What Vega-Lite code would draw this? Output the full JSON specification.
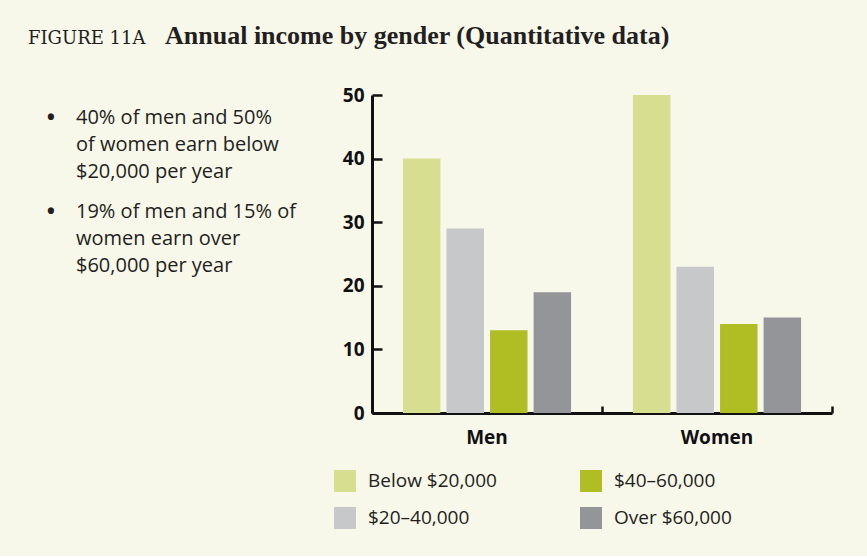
{
  "$schema": "https://vega.github.io/schema/vega-lite/v6.json",
  "background": "#f7f7ea",
  "padding": {"left": 0, "top": 23, "right": 34, "bottom": 27},
  "config": {"view": {"stroke": null}, "concat": {"spacing": 0}},
  "bounds": "flush",
  "hconcat": [
    {
      "width": 372,
      "height": 318,
      "title": {"text": "FIGURE 11A", "anchor": "start", "frame": "group", "dx": 28, "font": "DejaVu Serif", "fontSize": 18, "fontWeight": "normal", "baseline": "alphabetic", "offset": 33, "color": "#231f20"},
      "data": {"values": [
        {"bullet": "a", "lines": ["40% of men and 50%", "of women earn below", "$20,000 per year"]},
        {"bullet": "b", "lines": ["19% of men and 15% of", "women earn over", "$60,000 per year"]}
      ]},
      "layer": [
        {
          "mark": {"type": "text", "align": "left", "baseline": "top", "font": "Open Sans", "fontSize": 20, "lineHeight": 27, "color": "#231f20"},
          "encoding": {
            "x": {"value": 76},
            "y": {"field": "bullet", "type": "nominal", "scale": {"type": "point", "range": [13, 107], "padding": 0}, "axis": null},
            "text": {"field": "lines", "type": "nominal"}
          }
        },
        {
          "mark": {"type": "text", "align": "center", "baseline": "top", "font": "Open Sans", "fontSize": 22, "fontWeight": "bold", "color": "#231f20"},
          "encoding": {
            "x": {"value": 51},
            "y": {"field": "bullet", "type": "nominal", "scale": {"type": "point", "range": [13, 107], "padding": 0}, "axis": null},
            "text": {"value": "•"}
          }
        }
      ]
    },
    {
      "width": 460,
      "height": 318,
      "title": {"text": "Annual income by gender (Quantitative data)", "anchor": "start", "frame": "group", "dx": -207, "font": "Liberation Serif", "fontSize": 26, "fontWeight": "bold", "baseline": "alphabetic", "offset": 16, "color": "#231f20"},
      "data": {"values": [
        {"gender": "Men", "bracket": "Below $20,000", "pct": 40},
        {"gender": "Men", "bracket": "$20–40,000", "pct": 29},
        {"gender": "Men", "bracket": "$40–60,000", "pct": 13},
        {"gender": "Men", "bracket": "Over $60,000", "pct": 19},
        {"gender": "Women", "bracket": "Below $20,000", "pct": 50},
        {"gender": "Women", "bracket": "$20–40,000", "pct": 23},
        {"gender": "Women", "bracket": "$40–60,000", "pct": 14},
        {"gender": "Women", "bracket": "Over $60,000", "pct": 15}
      ]},
      "mark": {"type": "bar"},
      "encoding": {
        "x": {
          "field": "gender", "type": "nominal", "sort": ["Men", "Women"],
          "scale": {"paddingInner": 0, "paddingOuter": 0},
          "axis": {"title": null, "labelAngle": 0, "bandPosition": 1, "tickExtra": true, "tickSize": -7, "tickWidth": 2.5, "tickColor": "#111111", "domainColor": "#111111", "domainWidth": 3, "labelFont": "Open Sans", "labelFontWeight": "bold", "labelFontSize": 19, "labelColor": "#111111", "labelPadding": 22, "labelBaseline": "top"}
        },
        "xOffset": {
          "field": "bracket", "type": "nominal", "sort": ["Below $20,000", "$20–40,000", "$40–60,000", "Over $60,000"],
          "scale": {"paddingInner": 0.14, "paddingOuter": 0.71}
        },
        "y": {
          "field": "pct", "type": "quantitative",
          "scale": {"domain": [0, 50], "nice": false},
          "axis": {"title": null, "values": [0, 10, 20, 30, 40, 50], "grid": false, "tickSize": -10, "tickWidth": 2.5, "tickColor": "#111111", "domainColor": "#111111", "domainWidth": 3, "labelFont": "Open Sans", "labelFontWeight": "bold", "labelFontSize": 19, "labelColor": "#111111", "labelPadding": 18}
        },
        "color": {
          "field": "bracket", "type": "nominal",
          "scale": {"domain": ["Below $20,000", "$20–40,000", "$40–60,000", "Over $60,000"], "range": ["#d7de8f", "#c7c8ca", "#b0bd23", "#949599"]},
          "legend": {"title": null, "orient": "none", "legendX": 334, "legendY": 375, "direction": "horizontal", "columns": 2, "values": ["Below $20,000", "$40–60,000", "$20–40,000", "Over $60,000"], "symbolType": "square", "symbolSize": 484, "symbolStrokeWidth": 0, "symbolOpacity": 1, "labelFont": "Open Sans", "labelFontSize": 19, "labelColor": "#231f20", "labelOffset": 12, "rowPadding": 15, "columnPadding": 83}
        }
      }
    }
  ]
}
